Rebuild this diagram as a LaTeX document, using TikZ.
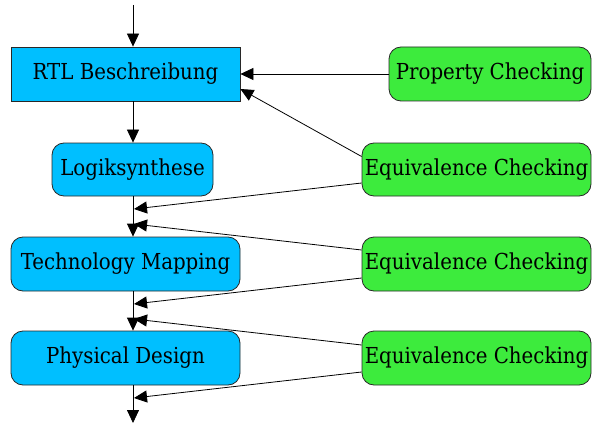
\documentclass[tikz,border=0pt]{standalone}
\usepackage{fontspec}
\setmainfont{DejaVu Serif Condensed}
\usetikzlibrary{arrows.meta}
\definecolor{boxblue}{RGB}{0,191,255}
\definecolor{boxgreen}{RGB}{61,235,61}
\definecolor{edgegray}{RGB}{40,40,40}
\begin{document}
\begin{tikzpicture}[x=1pt,y=-1pt,
  base/.style={draw=edgegray, line width=0.8pt, inner sep=0pt, align=center,
    font=\fontsize{22}{24}\selectfont},
  bluebox/.style={base, fill=boxblue},
  greenbox/.style={base, fill=boxgreen, rounded corners=12pt},
  rbluebox/.style={bluebox, rounded corners=12pt},
  arr/.style={draw=black, line width=0.8pt, -{Triangle[length=13pt,width=12pt]}}]
\useasboundingbox (0,0) rectangle (594,425);
\node[bluebox, minimum width=229pt, minimum height=54pt] (rtl) at (125.5,74) {RTL Beschreibung};
\node[rbluebox, minimum width=161pt, minimum height=53pt] (logik) at (132.5,169.5) {Logiksynthese};
\node[rbluebox, minimum width=229pt, minimum height=54pt] (tm) at (125.5,264) {Technology Mapping};
\node[rbluebox, minimum width=229pt, minimum height=54pt] (pd) at (125.5,358) {Physical Design};
\node[greenbox, minimum width=202pt, minimum height=54pt] (prop) at (490,74) {Property Checking};
\node[greenbox, minimum width=229pt, minimum height=53pt] (ec1) at (476.5,169.5) {Equivalence Checking};
\node[greenbox, minimum width=229pt, minimum height=54pt] (ec2) at (476.5,264) {Equivalence Checking};
\node[greenbox, minimum width=229pt, minimum height=54pt] (ec3) at (476.5,358) {Equivalence Checking};
\coordinate (top) at (133,5);
\coordinate (bot) at (133,423);
\coordinate (m1) at (134,209);
\coordinate (m2) at (134,224);
\coordinate (m3) at (134,304);
\coordinate (m4) at (134,319);
\coordinate (m5) at (134,398);
\draw[arr] (top) -- (top |- rtl.north);
\draw[arr] (top |- rtl.south) -- (top |- logik.north);
\draw[arr] (top |- logik.south) -- (top |- tm.north);
\draw[arr] (top |- tm.south) -- (top |- pd.north);
\draw[arr] (top |- pd.south) -- (bot);
\draw[arr] (prop.west) -- (rtl.east);
\draw[arr] ([yshift=13pt]ec1.west) -- ([yshift=-15pt]rtl.east);
\draw[arr] ([yshift=-13.5pt]ec1.west) -- (m1);
\draw[arr] ([yshift=14pt]ec2.west) -- (m2);
\draw[arr] ([yshift=-14pt]ec2.west) -- (m3);
\draw[arr] ([yshift=13pt]ec3.west) -- (m4);
\draw[arr] ([yshift=-14pt]ec3.west) -- (m5);
\end{tikzpicture}
\end{document}
